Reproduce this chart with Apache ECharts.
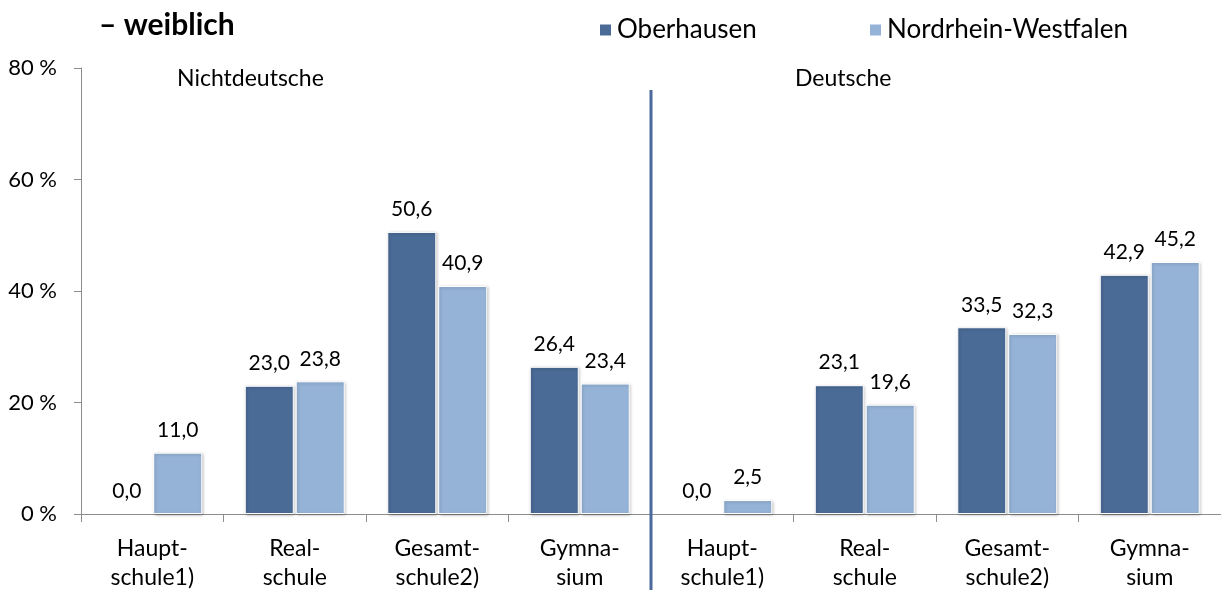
<!DOCTYPE html>
<html>
<head>
<meta charset="utf-8">
<script src="https://cdn.jsdelivr.net/npm/echarts@6/dist/echarts.min.js"></script>
<style>
  html, body { margin: 0; padding: 0; background: #fff; }
  #chart { width: 1221px; height: 592px; }
</style>
</head>
<body>
<div id="chart"></div>
<script>
const categories = [
  'Haupt-\nschule1)', 'Real-\nschule', 'Gesamt-\nschule2)', 'Gymna-\nsium',
  'Haupt-\nschule1)', 'Real-\nschule', 'Gesamt-\nschule2)', 'Gymna-\nsium'
]
const oberhausen = [0.0, 23.0, 50.6, 26.4, 0.0, 23.1, 33.5, 42.9]
const nrw = [11.0, 23.8, 40.9, 23.4, 2.5, 19.6, 32.3, 45.2]
const seriesNames = ['Oberhausen', 'Nordrhein-Westfalen']
const groupNames = ['Nichtdeutsche', 'Deutsche']

const font = 'Lato, "Open Sans", sans-serif'
const darkBlue = '#4a6b96'
const lightBlue = '#95b3d7'

const chart = echarts.init(document.getElementById('chart'))

const labelOpt = {
  show: true,
  position: 'top',
  distance: 12,
  color: '#000',
  fontFamily: font,
  fontSize: 21,
  formatter: (p) => p.value.toFixed(1).replace('.', ',')
}

const barStyle = (color) => ({
  color: color,
  borderColor: '#ffffff',
  borderWidth: 1,
  shadowColor: 'rgba(0, 0, 0, 0.25)',
  shadowBlur: 3,
  shadowOffsetX: 1,
  shadowOffsetY: 1
})

// zero bars get no border or shadow, as in the original
const toData = (arr) => arr.map(v => v === 0
  ? { value: v, itemStyle: { borderWidth: 0, shadowBlur: 0, shadowOffsetX: 0, shadowOffsetY: 0 } }
  : v)

const legendText = { fontFamily: font, fontSize: 26, color: '#000' }

chart.setOption({
  animation: false,
  title: {
    text: '– weiblich',
    left: 94,
    top: 5,
    textStyle: { fontFamily: font, fontSize: 30, fontWeight: 'bold', color: '#000' }
  },
  legend: [
    {
      data: [seriesNames[0]],
      left: 593,
      top: 12,
      icon: 'rect',
      itemWidth: 13,
      itemHeight: 13,
      textStyle: legendText
    },
    {
      data: [seriesNames[1]],
      left: 863,
      top: 12,
      icon: 'rect',
      itemWidth: 13,
      itemHeight: 13,
      textStyle: legendText
    }
  ],
  grid: { left: 81, right: 0, top: 68, bottom: 76 },
  xAxis: {
    type: 'category',
    data: categories,
    axisLine: { lineStyle: { color: '#8c8c8c', width: 1 } },
    axisTick: { show: true, length: 8, lineStyle: { color: '#8c8c8c' } },
    axisLabel: {
      color: '#000',
      fontFamily: font,
      fontSize: 23,
      lineHeight: 29,
      margin: 20,
      interval: 0
    }
  },
  yAxis: {
    type: 'value',
    min: 0,
    max: 80,
    interval: 20,
    splitLine: { show: false },
    axisLine: { show: true, lineStyle: { color: '#8c8c8c', width: 1 } },
    axisTick: { show: true, length: 7, lineStyle: { color: '#8c8c8c' } },
    axisLabel: {
      formatter: '{value} %',
      color: '#000',
      fontFamily: font,
      fontSize: 22,
      margin: 24
    }
  },
  series: [
    {
      name: seriesNames[0],
      type: 'bar',
      data: toData(oberhausen),
      barWidth: 49,
      barGap: '4%',
      itemStyle: barStyle(darkBlue),
      label: labelOpt
    },
    {
      name: seriesNames[1],
      type: 'bar',
      data: toData(nrw),
      barWidth: 49,
      barGap: '4%',
      itemStyle: barStyle(lightBlue),
      label: labelOpt
    }
  ]
})

// separator between the two groups, placed from the category axis
const x3 = chart.convertToPixel({ xAxisIndex: 0 }, 3)
const x4 = chart.convertToPixel({ xAxisIndex: 0 }, 4)
const sepX = (x3 + x4) / 2

chart.setOption({
  graphic: [
    {
      type: 'line',
      shape: { x1: sepX, y1: 90, x2: sepX, y2: 590 },
      style: { stroke: '#4a6b9a', lineWidth: 3 },
      z: 10
    },
    {
      type: 'text',
      left: 177,
      top: 67,
      style: { text: groupNames[0], fontFamily: font, fontSize: 23, fill: '#000' }
    },
    {
      type: 'text',
      left: 795,
      top: 67,
      style: { text: groupNames[1], fontFamily: font, fontSize: 23, fill: '#000' }
    }
  ]
})

window.addEventListener('resize', () => chart.resize())
</script>
</body>
</html>
